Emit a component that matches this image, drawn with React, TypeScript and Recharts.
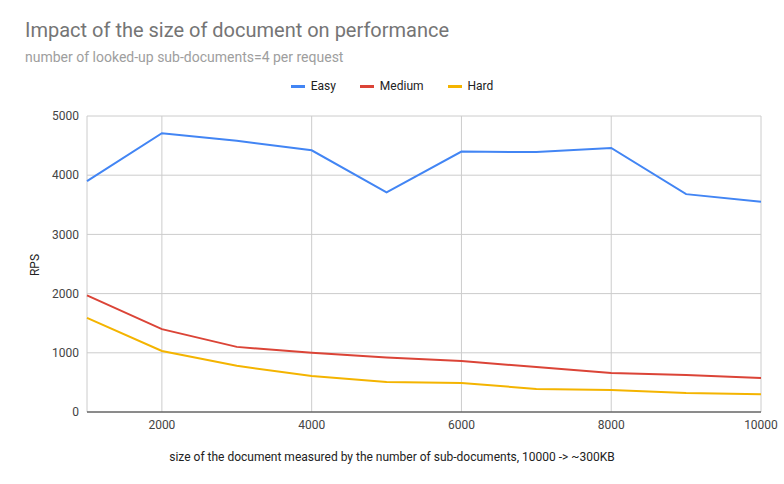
import React from 'react';
import { LineChart, Line, XAxis, YAxis, CartesianGrid } from 'recharts';

const sizes = [1000, 2000, 3000, 4000, 5000, 6000, 7000, 8000, 9000, 10000];
const easy = [3900, 4710, 4580, 4420, 3710, 4400, 4390, 4460, 3680, 3550];
const medium = [1970, 1400, 1100, 1000, 920, 860, 760, 660, 625, 575];
const hard = [1590, 1030, 780, 610, 505, 490, 390, 370, 320, 300];
const xTicks = [2000, 4000, 6000, 8000, 10000];
const yTicks = [0, 1000, 2000, 3000, 4000, 5000];

const data = sizes.map((s, i) => ({ s, easy: easy[i], medium: medium[i], hard: hard[i] }));

const legend = [
  { name: 'Easy', color: '#4285f4' },
  { name: 'Medium', color: '#db4437' },
  { name: 'Hard', color: '#f4b400' },
];

export default function App() {
  return (
    <div style={{ position: 'fixed', left: 0, top: 0, width: 784, height: 484, background: '#fff', fontFamily: 'Roboto, Arial, sans-serif' }}>
      <div style={{ position: 'absolute', left: 25, top: 18, fontSize: 20, color: '#757575' }}>
        Impact of the size of document on performance
      </div>
      <div style={{ position: 'absolute', left: 25, top: 49, fontSize: 14, color: '#9e9e9e' }}>
        number of looked-up sub-documents=4 per request
      </div>
      <div style={{ position: 'absolute', left: 0, top: 79, width: 784, display: 'flex', justifyContent: 'center', gap: 24, fontSize: 12, color: '#222' }}>
        {legend.map((l) => (
          <span key={l.name} style={{ display: 'inline-flex', alignItems: 'center', gap: 6 }}>
            <span style={{ width: 14, height: 3, background: l.color, display: 'inline-block' }} />
            {l.name}
          </span>
        ))}
      </div>
      <div style={{ position: 'absolute', left: 0, top: 450, width: 784, textAlign: 'center', fontSize: 12, color: '#222' }}>
        size of the document measured by the number of sub-documents, 10000 -&gt; ~300KB
      </div>
      <div style={{ position: 'absolute', left: 24, top: 258, fontSize: 12, color: '#222', transform: 'rotate(-90deg)', transformOrigin: 'center' }}>
        RPS
      </div>
      <LineChart width={784} height={484} data={data} margin={{ top: 116, right: 23, bottom: 42, left: 37 }}>
        <CartesianGrid stroke="#ccc" vertical={true} />
        <XAxis
          dataKey="s"
          type="number"
          domain={[1000, 10000]}
          ticks={xTicks}
          height={30}
          tick={{ fontSize: 12, fill: '#444' }}
          tickLine={false}
          axisLine={{ stroke: '#333' }}
        />
        <YAxis
          domain={[0, 5000]}
          ticks={yTicks}
          width={50}
          tick={{ fontSize: 12, fill: '#444' }}
          tickLine={false}
          axisLine={false}
        />
        <Line dataKey="easy" stroke="#4285f4" strokeWidth={2} dot={false} isAnimationActive={false} />
        <Line dataKey="medium" stroke="#db4437" strokeWidth={2} dot={false} isAnimationActive={false} />
        <Line dataKey="hard" stroke="#f4b400" strokeWidth={2} dot={false} isAnimationActive={false} />
      </LineChart>
    </div>
  );
}
